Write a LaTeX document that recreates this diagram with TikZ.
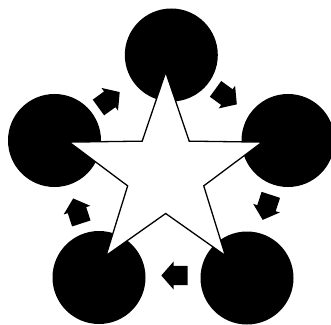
\documentclass[tikz,border=0pt]{standalone}
\usetikzlibrary{calc}
\tikzset{
  disc/.style={circle,fill=black,inner sep=0pt,minimum size=93pt},
  starline/.style={draw=black,fill=white,line width=1.3pt,line join=miter},
  pics/blockarrow/.style={code={%
    \fill[black] (13,0) -- (0.7,14) -- (0.7,9.7) -- (-13.3,9.7) -- (-13.3,-9.7)
      -- (0.7,-9.7) -- (0.7,-14) -- cycle;}}}
\begin{document}
\begin{tikzpicture}[x=1pt,y=1pt]
\useasboundingbox (0,0) rectangle (331,324);

\foreach \n/\p in {1/{171.3,269},2/{288,183.5},3/{247,46},4/{99,46.5},5/{54.5,183.5}}
  \node[disc] (c\n) at (\p) {};

\coordinate (sc) at (165.7,150.5);
\draw[starline,shift={(sc)}] (90:101.5) \foreach \k in {0,...,4}{ -- ({126+72*\k}:40) -- ({162+72*\k}:101.5)} -- cycle;

\foreach \x/\y/\r in {109.2/224.3/36,226.3/227.3/-36,266.7/116.5/-108,174.3/48.5/180,77.2/113.2/108}
  \pic[rotate=\r] at (\x,\y) {blockarrow};
\end{tikzpicture}
\end{document}
